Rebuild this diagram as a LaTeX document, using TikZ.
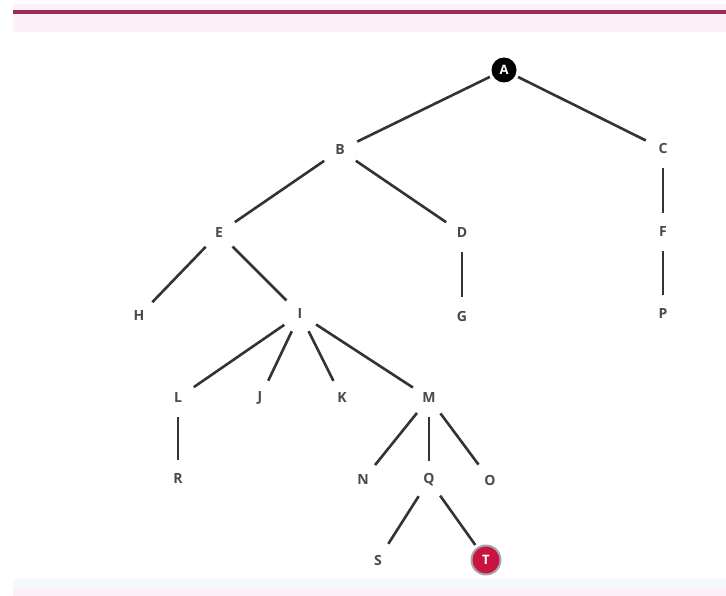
\documentclass[tikz,border=0pt]{standalone}
\usepackage{fontspec}
\setmainfont{Open Sans}
\definecolor{band}{HTML}{9E2A57}
\definecolor{bandlight}{HTML}{FDF1F8}
\definecolor{cyanlight}{HTML}{F1FBFB}
\definecolor{pinklight}{HTML}{FDEFF7}
\definecolor{txt}{HTML}{4A4A4A}
\definecolor{edgec}{HTML}{333333}
\definecolor{tred}{HTML}{C8143F}
\begin{document}
\begin{tikzpicture}[x=1pt,y=-1pt,
  lbl/.style={circle,minimum size=32pt,inner sep=0pt,text=txt,font=\fontsize{14}{14}\selectfont\bfseries},
  root/.style={circle,fill=black,minimum size=25pt,inner sep=0pt,text=white,font=\fontsize{13}{13}\selectfont\bfseries},
  goal/.style={circle,fill=tred,draw=gray!70,line width=2pt,minimum size=29pt,inner sep=0pt,text=white,font=\fontsize{13}{13}\selectfont\bfseries},
  edge/.style={draw=edgec,line width=2.6pt,shorten <=3pt,shorten >=3pt}]
\useasboundingbox (0,0) rectangle (726,596);
\fill[white] (0,0) rectangle (726,596);
% top band
\fill[bandlight] (13,4) rectangle (726,32);
\draw[band,line width=4pt] (13,12) -- (726,12);
% bottom bands
\fill[cyanlight] (13,579) rectangle (726,587);
\fill[pinklight] (13,587) rectangle (726,596);
% nodes
\node[root] (A) at (504,70) {A};
\node[lbl] (B) at (340,150) {B};
\node[lbl] (C) at (663,149) {C};
\node[lbl] (E) at (219,233) {E};
\node[lbl] (D) at (462,233) {D};
\node[lbl] (F) at (663,232) {F};
\node[lbl] (H) at (139,316) {H};
\node[lbl] (I) at (300,314) {I};
\node[lbl] (G) at (462,316) {G};
\node[lbl] (P) at (663,314) {P};
\node[lbl] (L) at (178,398) {L};
\node[lbl] (J) at (260,398) {J};
\node[lbl] (K) at (342,398) {K};
\node[lbl] (M) at (429,398) {M};
\node[lbl] (R) at (178,479) {R};
\node[lbl] (N) at (363,480) {N};
\node[lbl] (Q) at (429,480) {Q};
\node[lbl] (O) at (490,480) {O};
\node[lbl] (S) at (378,560) {S};
\node[goal] (T) at (486,560) {T};
% edges
\draw[edge] (A) -- (B);
\draw[edge] (A) -- (C);
\draw[edge] (B) -- (E);
\draw[edge] (B) -- (D);
\draw[edge] (C) -- (F);
\draw[edge] (F) -- (P);
\draw[edge] (E) -- (H);
\draw[edge] (E) -- (I);
\draw[edge] (D) -- (G);
\draw[edge] (I) -- (L);
\draw[edge] (I) -- (J);
\draw[edge] (I) -- (K);
\draw[edge] (I) -- (M);
\draw[edge] (L) -- (R);
\draw[edge] (M) -- (N);
\draw[edge] (M) -- (Q);
\draw[edge] (M) -- (O);
\draw[edge] (Q) -- (S);
\draw[edge] (Q) -- (T);
\end{tikzpicture}
\end{document}
